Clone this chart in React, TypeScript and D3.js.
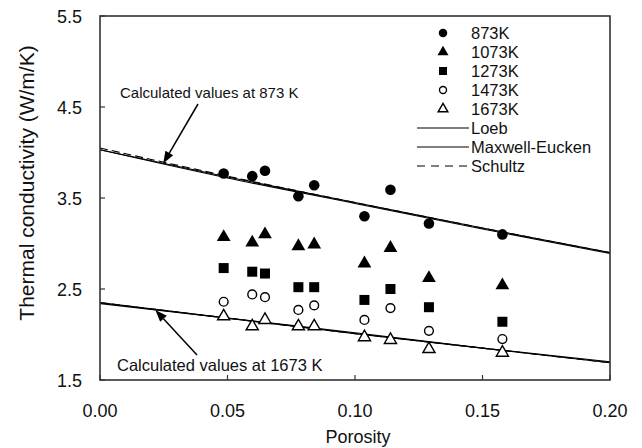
import React from "react";
import * as d3 from "d3";

const porosity = [0.0485, 0.0597, 0.0647, 0.0778, 0.084, 0.1037, 0.1139, 0.129, 0.1578];
const k873 = [3.77, 3.74, 3.8, 3.52, 3.64, 3.3, 3.59, 3.22, 3.1];
const k1073 = [3.07, 3.01, 3.1, 2.97, 2.99, 2.78, 2.95, 2.62, 2.54];
const k1273 = [2.73, 2.69, 2.67, 2.52, 2.52, 2.38, 2.5, 2.3, 2.14];
const k1473 = [2.36, 2.44, 2.41, 2.27, 2.32, 2.16, 2.29, 2.04, 1.95];
const k1673 = [2.2, 2.09, 2.16, 2.09, 2.09, 1.97, 1.94, 1.84, 1.8];

const calcPorosity = [0, 0.05, 0.1, 0.15, 0.2];
const loeb873 = [4.03, 3.73, 3.45, 3.17, 2.9];
const me873 = [4.03, 3.72, 3.44, 3.16, 2.89];
const schultz873 = [4.05, 3.74, 3.45, 3.17, 2.9];
const loeb1673 = [2.34, 2.18, 2.01, 1.85, 1.69];
const me1673 = [2.35, 2.18, 2.02, 1.85, 1.7];
const schultz1673 = [2.35, 2.18, 2.01, 1.85, 1.69];

const xTicks = [0, 0.05, 0.1, 0.15, 0.2];
const yTicks = [1.5, 2.5, 3.5, 4.5, 5.5];

const seriesNames = ["873K", "1073K", "1273K", "1473K", "1673K"];
const lineNames = ["Loeb", "Maxwell-Eucken", "Schultz"];

const W = 642, H = 448;
const L = 100, R = 610, T = 16, B = 380;
const FONT = "Liberation Sans, Arial, sans-serif";

const x = d3.scaleLinear().domain([0, 0.2]).range([L, R]);
const y = d3.scaleLinear().domain([1.5, 5.5]).range([B, T]);

type Kind = "circle" | "triangle" | "square" | "ocircle" | "otriangle";
const kinds: Kind[] = ["circle", "triangle", "square", "ocircle", "otriangle"];
const seriesData = [k873, k1073, k1273, k1473, k1673];

function Marker({ kind, cx, cy, s = 1 }: { kind: Kind; cx: number; cy: number; s?: number }) {
  if (kind === "circle") return <circle cx={cx} cy={cy} r={5.3 * s} fill="#000" />;
  if (kind === "ocircle")
    return <circle cx={cx} cy={cy} r={4.4 * s} fill="#fff" stroke="#000" strokeWidth={1.4} />;
  if (kind === "square") {
    const h = 5 * s;
    return <rect x={cx - h} y={cy - h} width={2 * h} height={2 * h} fill="#000" />;
  }
  const sz = (kind === "triangle" ? 82 : 64) * s * s;
  const p = d3.symbol().type(d3.symbolTriangle).size(sz)()!;
  if (kind === "triangle") return <path d={p} transform={`translate(${cx},${cy})`} fill="#000" />;
  return <path d={p} transform={`translate(${cx},${cy})`} fill="#fff" stroke="#000" strokeWidth={1.4} />;
}

const line = d3
  .line<number>()
  .x((_, i) => x(calcPorosity[i]))
  .y((d) => y(d))
  .curve(d3.curveMonotoneX);

function Arrow({ x1, y1, x2, y2 }: { x1: number; y1: number; x2: number; y2: number }) {
  const ang = Math.atan2(y2 - y1, x2 - x1);
  const len = 12, wid = 4.5;
  const bx = x2 - len * Math.cos(ang), by = y2 - len * Math.sin(ang);
  const px = -Math.sin(ang) * wid, py = Math.cos(ang) * wid;
  return (
    <g>
      <line x1={x1} y1={y1} x2={bx} y2={by} stroke="#000" strokeWidth={1.5} />
      <path d={`M${x2},${y2}L${bx + px},${by + py}L${bx - px},${by - py}Z`} fill="#000" />
    </g>
  );
}

export default function App() {
  const upTip = { px: 0.0248, v: 3.88 };
  const loTip = { px: 0.0217, v: 2.27 };
  return (
    <svg
      width={W}
      height={H}
      style={{ position: "absolute", left: 0, top: 0, background: "#fff" }}
      fontFamily={FONT}
    >
      <rect width={W} height={H} fill="#fff" />
      {/* model lines */}
      <path d={line(loeb873)!} fill="none" stroke="#000" strokeWidth={1.1} />
      <path d={line(me873)!} fill="none" stroke="#000" strokeWidth={1.1} />
      <path d={line(schultz873)!} fill="none" stroke="#000" strokeWidth={1.1} strokeDasharray="8,4" />
      <path d={line(loeb1673)!} fill="none" stroke="#000" strokeWidth={1.1} />
      <path d={line(me1673)!} fill="none" stroke="#000" strokeWidth={1.1} />
      <path d={line(schultz1673)!} fill="none" stroke="#000" strokeWidth={1.1} strokeDasharray="8,4" />

      {/* data points */}
      {seriesData.map((arr, si) =>
        arr.map((v, i) => (
          <Marker key={`${si}-${i}`} kind={kinds[si]} cx={x(porosity[i])} cy={y(v)} />
        ))
      )}

      {/* frame */}
      <rect x={L} y={T} width={R - L} height={B - T} fill="none" stroke="#333" strokeWidth={1.6} />
      {/* ticks */}
      {xTicks.map((t) => (
        <g key={`xt${t}`}>
          <line x1={x(t)} x2={x(t)} y1={B} y2={B - 5} stroke="#333" strokeWidth={1.2} />
          <text x={x(t)} y={417} textAnchor="middle" fontSize={18} fill="#111">
            {t.toFixed(2)}
          </text>
        </g>
      ))}
      {yTicks.map((t) => (
        <g key={`yt${t}`}>
          <line x1={L} x2={L + 5} y1={y(t)} y2={y(t)} stroke="#333" strokeWidth={1.2} />
          <text x={82} y={y(t) + 6.5} textAnchor="end" fontSize={18} fill="#111">
            {t.toFixed(1)}
          </text>
        </g>
      ))}
      <text x={(L + R) / 2 + 3} y={443} textAnchor="middle" fontSize={18} fill="#111">
        Porosity
      </text>
      <text
        transform={`translate(34,183) rotate(-90)`}
        textAnchor="middle"
        fontSize={21}
        fill="#111"
      >
        Thermal conductivity (W/m/K)
      </text>

      {/* annotations */}
      <text x={120} y={98} fontSize={15} fill="#111">
        Calculated values at 873 K
      </text>
      <Arrow x1={198} y1={104} x2={x(upTip.px)} y2={y(upTip.v)} />
      <text x={117} y={371} fontSize={16.5} fill="#111">
        Calculated values at 1673 K
      </text>
      <Arrow x1={197} y1={355} x2={x(loTip.px)} y2={y(loTip.v)} />

      {/* legend */}
      {seriesNames.map((n, i) => (
        <g key={n}>
          <Marker kind={kinds[i]} cx={443} cy={33 + i * 19} s={0.8} />
          <text x={471} y={33 + i * 19 + 6} fontSize={16.5} fill="#111">
            {n}
          </text>
        </g>
      ))}
      {lineNames.map((n, i) => {
        const yy = 128 + i * 19;
        return (
          <g key={n}>
            <line
              x1={417}
              x2={469}
              y1={yy}
              y2={yy}
              stroke="#000"
              strokeWidth={1.1}
              strokeDasharray={i === 2 ? "8,6" : undefined}
            />
            <text x={471} y={yy + 6} fontSize={16.5} fill="#111">
              {n}
            </text>
          </g>
        );
      })}
    </svg>
  );
}
